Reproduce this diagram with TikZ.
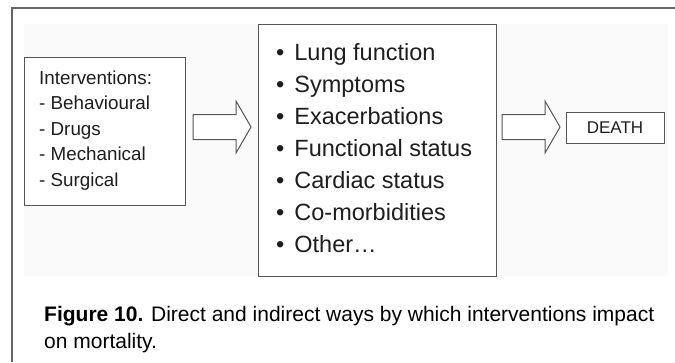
\documentclass[tikz,border=0pt]{standalone}
\usepackage{fontspec}
\setmainfont{Liberation Sans}
\definecolor{linegray}{HTML}{555555}
\definecolor{framegray}{HTML}{666666}
\definecolor{txt}{HTML}{1E1E1E}
\definecolor{bgpanel}{HTML}{FAFAFA}
\begin{document}
\begin{tikzpicture}[x=1pt,y=-1pt,
  boxnode/.style={draw=linegray,line width=1pt,fill=white,inner sep=0pt,outer sep=0pt},
  lefttext/.style={anchor=base west,inner sep=0pt,text=txt,font=\fontsize{18.8}{25}\selectfont},
  midtext/.style={anchor=base west,inner sep=0pt,text=txt,font=\fontsize{23.5}{32}\selectfont},
  captext/.style={anchor=base west,inner sep=0pt,text=black,font=\fontsize{21}{27}\selectfont},
  blockarr/.pic={\draw[linegray,line width=1pt,fill=white,line join=miter]
     (0,-12.5) -- (43,-12.5) -- (43,-26) -- (58,0) -- (43,26) -- (43,12.5) -- (0,12.5) -- cycle;}
]
\useasboundingbox (0,0) rectangle (675,362);
\fill[white] (0,0) rectangle (675,362);
% figure panel background
\fill[bgpanel] (24,24) rectangle (668,276);
% outer frame (top and left)
\draw[framegray,line width=1.4pt] (12,362) -- (12,8) -- (675,8);

% boxes
\node[boxnode,minimum width=161pt,minimum height=148pt] (lbox) at (104.5,131) {};
\node[boxnode,minimum width=238pt,minimum height=252pt] (mbox) at (377,150) {};
\node[boxnode,minimum width=98pt,minimum height=31pt,font=\fontsize{17}{20}\selectfont,text=txt] (dbox) at (615,128) {DEATH};

% block arrows (start points derived from the boxes)
\coordinate (a1) at ([xshift=8pt]lbox.east |- dbox.west);
\coordinate (a2) at ([xshift=6pt]mbox.east |- dbox.west);
\pic at ([yshift=1pt]a1) {blockarr};
\pic at ([yshift=1pt]a2) {blockarr};

% left box text
\node[lefttext] (l1) at (39,84) {Interventions:};
\node[lefttext] (l2) at (39,109.5) {- Behavioural};
\node[lefttext] (l3) at (39,135) {- Drugs};
\node[lefttext] (l4) at (39,160.5) {- Mechanical};
\node[lefttext] (l5) at (39,186) {- Surgical};

% middle box text
\foreach \t [count=\i] in {Lung function,Symptoms,Exacerbations,Functional status,Cardiac status,Co-morbidities,Other…}{
  \node[midtext] (m\i) at (276,28+32*\i) {\textbullet\hspace{10pt}\t};
}

% caption
\node[captext] (cap1) at (44,321) {\textbf{Figure 10.} Direct and indirect ways by which interventions impact};
\node[captext] (cap2) at (44,348) {on mortality.};
\end{tikzpicture}
\end{document}
